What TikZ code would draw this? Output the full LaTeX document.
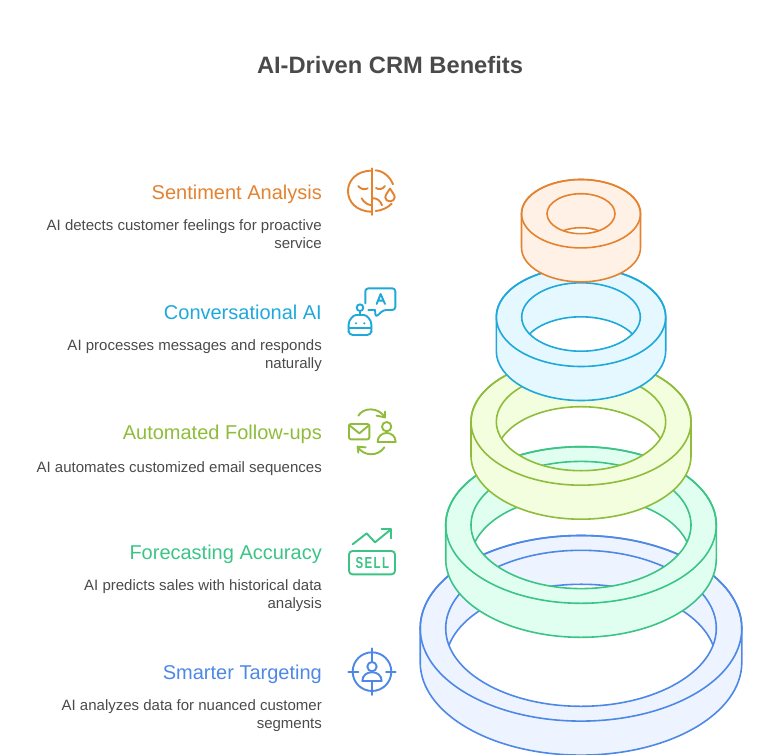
\documentclass[tikz,border=0pt]{standalone}
\usepackage{fontspec}
\setmainfont{Liberation Sans}
\definecolor{cO}{HTML}{E38330}\definecolor{fO}{HTML}{FFF1E5}
\definecolor{cC}{HTML}{1FA8DA}\definecolor{fC}{HTML}{E6F8FF}
\definecolor{cL}{HTML}{8FBC3B}\definecolor{fL}{HTML}{F3FEDE}
\definecolor{cG}{HTML}{3BC486}\definecolor{fG}{HTML}{E1FFF1}
\definecolor{cB}{HTML}{4E88E7}\definecolor{fB}{HTML}{EDF4FF}
\definecolor{txt}{HTML}{4A4A4A}
\tikzset{
  ttl/.style={font=\fontsize{23.7}{28}\selectfont\bfseries,text=txt,inner sep=0pt},
  head/.style={font=\fontsize{20}{24}\selectfont,anchor=east,inner sep=0pt},
  body/.style={font=\fontsize{15}{18}\selectfont,text=txt,anchor=east,align=right,inner sep=0pt},
  ico/.style={line width=1.9pt,line cap=round,line join=round},
  ringline/.style={line width=1.6pt}
}
% #1 stroke #2 fill #3 centre y #4 outer rx #5 outer ry #6 inner rx #7 inner ry
\newcommand{\ringshape}[7]{%
  \pgfmathsetmacro{\ra}{asin(17/#7)}%
  \pgfmathsetmacro{\rxx}{581+#6*cos(\ra)}%
  \pgfmathsetmacro{\ryy}{#3+17}%
  \pgfmathsetmacro{\rl}{581-#4}\pgfmathsetmacro{\rr}{581+#4}\pgfmathsetmacro{\rb}{#3+34}%
  \path[fill=#2,even odd rule]
    (\rl,#3) arc[start angle=180,end angle=360,x radius=#4,y radius=#5]
    -- (\rr,\rb) arc[start angle=0,end angle=180,x radius=#4,y radius=#5] -- cycle
    (\rxx,\ryy) arc[start angle=\ra,end angle=180-\ra,x radius=#6,y radius=#7]
    arc[start angle=180+\ra,end angle=360-\ra,x radius=#6,y radius=#7] -- cycle;
  \draw[#1,ringline,line join=round]
    (\rl,#3) arc[start angle=180,end angle=360,x radius=#4,y radius=#5]
    -- (\rr,\rb) arc[start angle=0,end angle=180,x radius=#4,y radius=#5] -- cycle;
  \draw[#1,ringline] (581,#3) ellipse[x radius=#4,y radius=#5];
  \draw[#1,ringline] (581,#3) ellipse[x radius=#6,y radius=#7];
  \draw[#1,ringline] (\rxx,\ryy) ++(0,0) arc[start angle=-\ra,end angle=-180+\ra,x radius=#6,y radius=#7];
}
\begin{document}
\begin{tikzpicture}[x=1pt,y=1pt,yscale=-1]
\useasboundingbox (0,0) rectangle (766,755);
\clip (0,0) rectangle (766,755);
\node[ttl] (title) at (390,65) {AI-Driven CRM Benefits};

\ringshape{cB}{fB}{628.3}{160.8}{92.8}{135.3}{78}
\ringshape{cG}{fG}{525}{135.3}{78.3}{110}{63.6}
\ringshape{cL}{fL}{421.7}{110}{63.5}{84.7}{49}
\ringshape{cC}{fC}{317}{84.7}{49.5}{59.3}{34.2}
\ringshape{cO}{fO}{213.7}{59.5}{34.2}{34}{20}

\node[head,text=cO] (h1) at (322,195) {\strut Sentiment Analysis};
\node[body] (b1) at (322,236) {\strut AI detects customer feelings for proactive\\\strut service};
\node[head,text=cC] (h2) at (322,315) {\strut Conversational AI};
\node[body] (b2) at (322,356) {\strut AI processes messages and responds\\\strut naturally};
\node[head,text=cL] (h3) at (322,435) {\strut Automated Follow-ups};
\node[body] (b3) at (322,469) {\strut AI automates customized email sequences};
\node[head,text=cG] (h4) at (322,555) {\strut Forecasting Accuracy};
\node[body] (b4) at (322,596) {\strut AI predicts sales with historical data\\\strut analysis};
\node[head,text=cB] (h5) at (322,675) {\strut Smarter Targeting};
\node[body] (b5) at (322,716) {\strut AI analyzes data for nuanced customer\\\strut segments};

% icon 1
\begin{scope}[shift={(330,160)},scale=0.3333,ico,cO]
\draw (126,25) -- (126,165);
\draw (126,32) .. controls (30,32) and (30,155) .. (126,155);
\draw (137,31) .. controls (160,33) and (180,50) .. (189,73);
\draw (185,131) .. controls (175,142) and (155,152) .. (137,153);
\draw (85,78) .. controls (92,88) and (104,90) .. (113,85);
\draw (138,84) .. controls (146,90) and (158,88) .. (165,78);
\draw (95,115) .. controls (102,128) and (113,134) .. (125,136);
\draw (126,115) .. controls (140,113) and (152,122) .. (156,136);
\draw (180,86) .. controls (172,98) and (166,106) .. (166,112) .. controls (166,128) and (194,128) .. (194,112) .. controls (194,106) and (188,98) .. (180,86) -- cycle;
\end{scope}
% icon 2
\begin{scope}[shift={(330,160)},scale=0.3333,ico,cC]
\draw (90,443) circle[radius=10];
\draw (90,453) -- (90,465);
\draw[rounded corners=4pt] (56,505) .. controls (56,480) and (70,465) .. (90,465) .. controls (110,465) and (124,480) .. (124,505) -- (124,525) -- (56,525) -- cycle;
\draw (56,505) -- (124,505);
\fill (78,490) circle[radius=3.5] (103,490) circle[radius=3.5];
\draw[rounded corners=3pt] (106,430) -- (106,385) -- (196,385) -- (196,450) -- (160,450) -- (137,472) -- (135,450);
\draw (135,450) -- (115,450);
\draw (140,432) -- (152,402) -- (165,432) (144,422) -- (161,422);
\end{scope}
% icon 3
\begin{scope}[shift={(330,400)},scale=0.3333,ico,cL]
\draw[rounded corners=2pt] (57,72) rectangle (118,118);
\draw (57,75) -- (88,100) -- (118,75);
\draw (170,80) circle[radius=14];
\draw (143,126) .. controls (143,90) and (197,90) .. (197,126) -- cycle;
\draw (85,47) .. controls (100,22) and (145,20) .. (165,52);
\draw (140,47) -- (165,52) -- (165,35);
\draw (163,142) .. controls (145,170) and (100,170) .. (83,140);
\draw (107,142) -- (83,140) -- (85,158);
\end{scope}
% icon 4
\begin{scope}[shift={(330,400)},scale=0.3333,ico,cG]
\draw (68,433) -- (110,400) -- (135,427) -- (183,388);
\draw (155,388) -- (183,388) -- (183,415);
\draw[rounded corners=3.5pt] (57,453) rectangle (195,523);
\node[font=\fontsize{16}{18}\selectfont\bfseries\addfontfeature{LetterSpace=12},text=cG,inner sep=0pt] (sell) at (127,490) {\scalebox{0.72}[1]{SELL}};
\end{scope}
% icon 5
\begin{scope}[shift={(330,400)},scale=0.3333,ico,cB]
\draw (126,815) circle[radius=58];
\draw (126,745) -- (126,785) (126,845) -- (126,885) (55,815) -- (85,815) (168,815) -- (197,815);
\draw (126,800) circle[radius=14];
\draw (97,843) .. controls (97,808) and (155,808) .. (155,843) -- cycle;
\end{scope}
\end{tikzpicture}
\end{document}
